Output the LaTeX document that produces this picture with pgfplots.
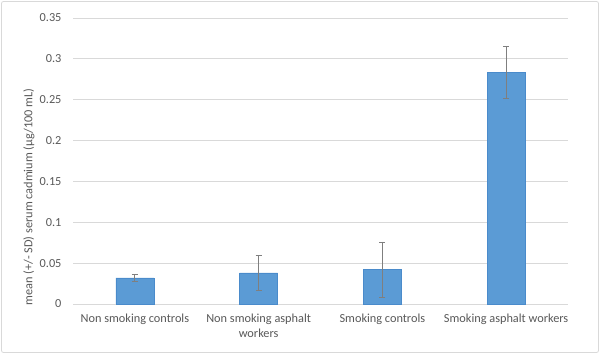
\documentclass[border=0pt]{standalone}
\usepackage{pgfplots}
\pgfplotsset{compat=1.18}
\usepackage{fontspec}
\setmainfont{Carlito}
\definecolor{barblue}{HTML}{5B9BD5}
\definecolor{baredge}{HTML}{4A8BCB}
\definecolor{gridgray}{HTML}{D9D9D9}
\definecolor{errgray}{HTML}{7F7F7F}
\definecolor{txtgray}{HTML}{595959}
\definecolor{framegray}{HTML}{D9D9D9}
\begin{document}
\begin{tikzpicture}[x=1bp,y=1bp]
\useasboundingbox (0,0) rectangle (600,355);
\fill[white] (0,0) rectangle (600,355);
\draw[framegray, line width=0.8bp, rounded corners=2bp] (1.5,2.5) rectangle (598.5,353.5);
\begin{axis}[
  at={(73bp,51bp)}, anchor=south west,
  scale only axis, width=495bp, height=286bp,
  xmin=-0.5, xmax=3.5, ymin=0, ymax=0.35,
  ytick={0,0.05,0.1,0.15,0.2,0.25,0.3,0.35},
  xtick={0,1,2,3},
  xticklabels={Non smoking controls, {Non smoking asphalt\\workers}, Smoking controls, Smoking asphalt workers},
  xticklabel style={align=center, text=txtgray, font=\fontsize{12.3bp}{15.5bp}\selectfont, yshift=-6bp},
  yticklabel style={text=txtgray, font=\fontsize{12.3bp}{15bp}\selectfont, /pgf/number format/fixed, /pgf/number format/precision=2, xshift=-8bp},
  /pgf/number format/assume math mode=true,
  axis line style={draw=none},
  major tick length=0pt,
  ymajorgrids, major grid style={gridgray, line width=0.8bp},
  ybar, bar width=38bp,
  clip=false,
]
\addplot[fill=barblue, draw=baredge, line width=0.5bp,
  error bars/.cd, y dir=both, y explicit,
  error bar style={errgray, line width=0.8bp},
  error mark options={rotate=90, mark size=3bp, errgray, line width=0.8bp}]
  coordinates {
  (0,0.032) +- (0,0.0043)
  (1,0.038) +- (0,0.0213)
  (2,0.042) +- (0,0.034)
  (3,0.283) +- (0,0.032)
  };
\end{axis}
\node[rotate=90, text=txtgray, font=\fontsize{12.3bp}{15bp}\selectfont] at (29,158) {mean (+/- SD) serum cadmium (µg/100 mL)};
\end{tikzpicture}
\end{document}
